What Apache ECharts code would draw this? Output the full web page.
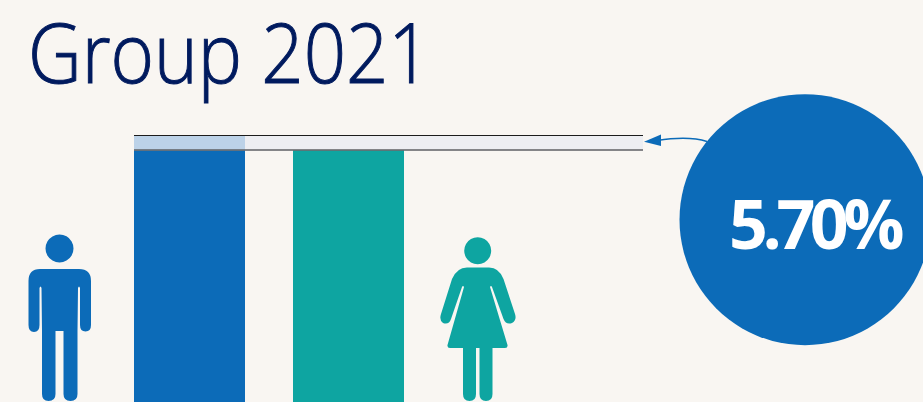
<!DOCTYPE html>
<html>
<head>
<meta charset="utf-8">
<style>
  html, body { margin: 0; padding: 0; background: #f9f6f2; overflow: hidden; }
  #chart { width: 923px; height: 402px; }
  /* Tight tracking for the large callout figure */
  #chart text[style*="68px"] { letter-spacing: -5.5px; }
</style>
<script src="https://cdn.jsdelivr.net/npm/echarts@6/dist/echarts.min.js"></script>
</head>
<body>
<div id="chart"></div>
<script>
// Pay levels, indexed so that the higher group sits at 100
const categories = ['Men', 'Women'];
const payLevel = [94.3, 94.3];
const gapShare = [5.7, 0];
const gapValue = 5.7;
const titleText = 'Group 2021';

const BLUE = '#0c6bb8';
const TEAL = '#0ea5a1';

const manPath =
  'M40 269 H79 Q91 269 91 281 V325 Q91 331.5 85.5 331.5 Q80 331.5 80 325 V288 Q79 285 78 288 L77.5 331 ' +
  'V394 Q77.5 401 70.5 401 Q63.5 401 63.5 394 V331 H55.5 V394 Q55.5 401 48.5 401 Q42 401 42 394 V331 ' +
  'L41.5 288 Q40.5 285 39.5 288 V325 Q39.5 332 34 332 Q28.5 332 28.5 325 V281 Q28.5 269 40 269 Z';

const womanPath =
  'M467 267.5 H489 Q499 267.5 503.5 279 L515 314 Q517 320 512 323 Q506 325 503.5 319 L492 287 Q491 285 490 287 ' +
  'L507.5 345 Q508 348 505 348 H492.5 V394 Q492.5 401 486 401 Q479.5 401 479.5 394 V348 H476 V394 ' +
  'Q476 401 469.5 401 Q463 401 463 394 V348 H450 Q447 348 447.5 345 L464 287 Q463 285 462 287 L451 319 ' +
  'Q449 325 443 323 Q439 320 441 314 L452 279 Q457 267.5 467 267.5 Z';

// Figure icons are registered as shapes so the graphic component can place them
echarts.graphic.registerShape('manIcon', echarts.graphic.extendPath(manPath));
echarts.graphic.registerShape('womanIcon', echarts.graphic.extendPath(womanPath));

const chart = echarts.init(document.getElementById('chart'), null, { renderer: 'svg' });

chart.setOption({
  animation: false,
  backgroundColor: '#f9f6f2',
  grid: [
    { left: 134, width: 509, top: 135, height: 267 },
    { left: 110, width: 318, top: 135, height: 267 }
  ],
  xAxis: [
    { type: 'category', gridIndex: 0, data: ['gap'], show: false },
    { type: 'category', gridIndex: 1, data: categories, show: false }
  ],
  yAxis: [
    { type: 'value', gridIndex: 0, min: 0, max: 100, show: false },
    { type: 'value', gridIndex: 1, min: 0, max: 100, show: false }
  ],
  series: [
    // Pale band marking the distance between the two levels, across the full width
    {
      type: 'bar', xAxisIndex: 0, yAxisIndex: 0, stack: 'band', z: 1,
      barWidth: '100%', silent: true,
      data: [payLevel[0]],
      itemStyle: { color: 'rgba(0,0,0,0)' }
    },
    {
      type: 'bar', xAxisIndex: 0, yAxisIndex: 0, stack: 'band', z: 1,
      barWidth: '100%', silent: true,
      data: [gapValue],
      itemStyle: { color: '#edeef2' }
    },
    // Group columns with the gap stacked on top
    {
      type: 'bar', xAxisIndex: 1, yAxisIndex: 1, stack: 'pay', z: 2,
      barWidth: 111, silent: true,
      data: payLevel.map((v, i) => ({
        value: v,
        itemStyle: { color: i === 0 ? BLUE : TEAL }
      }))
    },
    {
      type: 'bar', xAxisIndex: 1, yAxisIndex: 1, stack: 'pay', z: 2,
      barWidth: 111, silent: true,
      data: gapShare,
      itemStyle: { color: '#bcd2e8' }
    },
    // Rules along the upper and lower edges of the band
    {
      type: 'line', xAxisIndex: 0, yAxisIndex: 0, z: 3, silent: true,
      data: [],
      markLine: {
        silent: true,
        symbol: 'none',
        label: { show: false },
        animation: false,
        data: [
          { yAxis: 100, lineStyle: { color: '#1c1c1c', width: 1, type: 'solid' } },
          { yAxis: payLevel[0], lineStyle: { color: '#5f6165', width: 1.5, type: 'solid' } }
        ]
      }
    }
  ],
  graphic: [
    {
      type: 'text', z: 7, x: 28, y: 10, scaleX: 0.905,
      style: {
        text: titleText,
        fill: '#001a5e',
        stroke: '#001a5e',
        lineWidth: 1,
        fontFamily: '"Open Sans", "Noto Sans", sans-serif',
        fontWeight: 300,
        fontSize: 82,
        align: 'left',
        verticalAlign: 'top'
      }
    },
    { type: 'manIcon', z: 5, style: { fill: BLUE } },
    { type: 'circle', z: 5, shape: { cx: 59.5, cy: 248.5, r: 14 }, style: { fill: BLUE } },
    { type: 'womanIcon', z: 5, style: { fill: TEAL } },
    { type: 'circle', z: 5, shape: { cx: 477.7, cy: 250.7, r: 13.5 }, style: { fill: TEAL } },
    // Callout with its arrow pointing at the band
    {
      type: 'bezierCurve', z: 5,
      shape: { x1: 707, y1: 141.5, cpx1: 693, cpy1: 137, cpx2: 676, cpy2: 137.5, x2: 657, y2: 140.5 },
      style: { stroke: BLUE, lineWidth: 1.4, fill: 'none' }
    },
    {
      type: 'polygon', z: 5,
      shape: { points: [[644, 141.7], [661, 134.5], [661, 146]] },
      style: { fill: BLUE }
    },
    { type: 'circle', z: 6, shape: { cx: 805, cy: 219.7, r: 125.5 }, style: { fill: '#0c6bb8' } },
    {
      type: 'text', z: 7, x: 814, y: 222,
      style: {
        text: gapValue.toFixed(2) + '%',
        fill: '#ffffff',
        fontFamily: '"Open Sans", "Noto Sans", sans-serif',
        fontWeight: 700,
        fontSize: 68,
        align: 'center',
        verticalAlign: 'middle'
      }
    }
  ]
});
</script>
</body>
</html>
